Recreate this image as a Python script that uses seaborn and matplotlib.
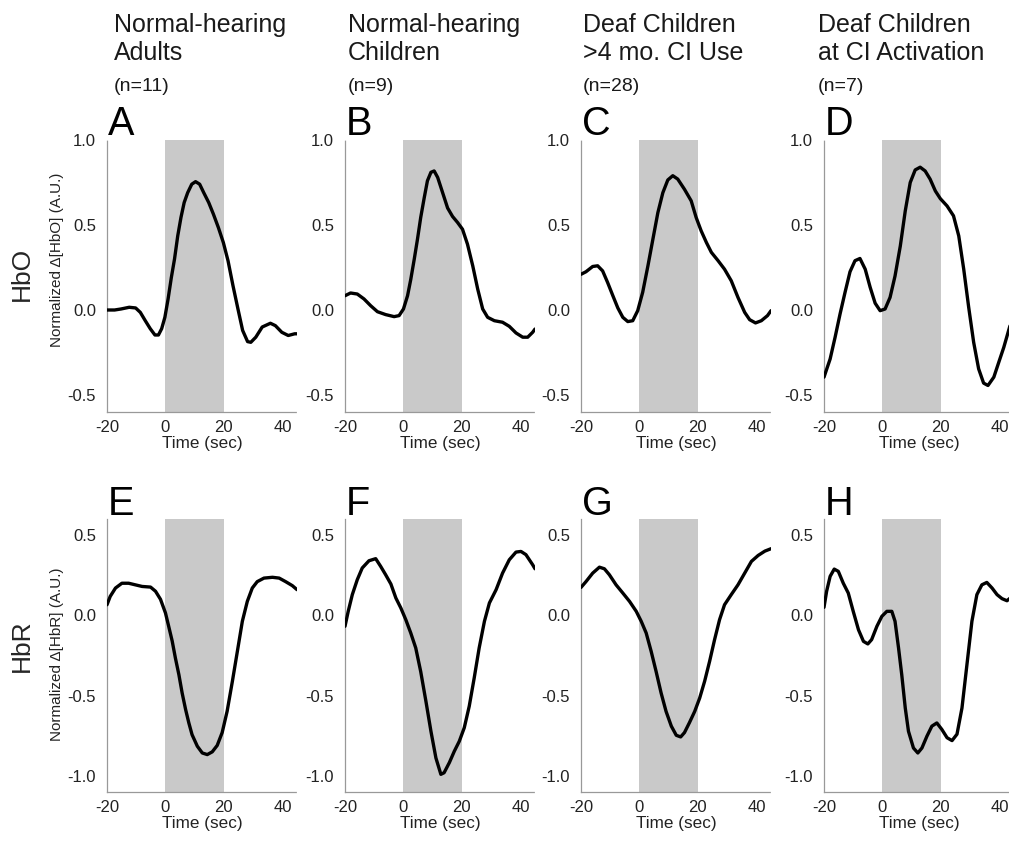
import numpy as np
import pandas as pd
import matplotlib
matplotlib.use("Agg")
import matplotlib.pyplot as plt
import seaborn as sns

# ---------------- data ----------------
A_t = [-20, -17.4, -15.2, -12.4, -10.2, -8.6, -6.9, -5.2, -3.6, -2.4, -1.3, -0.2, 0.9, 2, 3.1, 4.2, 5.3, 6.4, 7.6, 9,
       10.3, 11.7, 13.1, 14.8, 16.4, 18.1, 19.8, 21.4, 23.1, 24.8, 26.4, 28.1, 29.2, 30.9, 33.1, 35.9, 37.6, 39.8, 42, 44.2, 45]
A_v = [0.0, 0.0, 0.006, 0.016, 0.012, -0.014, -0.063, -0.11, -0.147, -0.147, -0.11, -0.043, 0.065, 0.19, 0.30, 0.436, 0.544, 0.632, 0.69, 0.74,
       0.755, 0.74, 0.69, 0.632, 0.564, 0.485, 0.397, 0.29, 0.143, 0.006, -0.12, -0.186, -0.19, -0.16, -0.10, -0.078, -0.092, -0.131, -0.15, -0.14, -0.14]

B_t = [-20, -18.1, -15.8, -13.5, -11.2, -8.9, -6.1, -3.2, -1.5, 0, 1.4, 2.5, 3.7, 4.8, 5.9, 7.1, 8.2, 9.4, 10.5, 11.7,
       13.4, 15.1, 16.8, 18.5, 20.2, 21.9, 23.7, 25.4, 27.1, 28.8, 31.1, 33.9, 36.2, 38.5, 40.8, 42.5, 44.2, 45]
B_v = [0.084, 0.10, 0.094, 0.065, 0.025, -0.01, -0.027, -0.039, -0.033, 0.006, 0.084, 0.18, 0.30, 0.417, 0.544, 0.66, 0.76, 0.81, 0.818, 0.78,
       0.69, 0.60, 0.55, 0.515, 0.475, 0.387, 0.26, 0.123, 0.006, -0.043, -0.063, -0.072, -0.096, -0.135, -0.16, -0.16, -0.131, -0.112]

C_t = [-20, -18.3, -16, -14.3, -12.6, -10.9, -9.1, -7.4, -5.7, -4, -2.3, -0.6, 1.1, 2.9, 4.6, 6.3, 8, 9.7, 11.4, 13.1,
       15.4, 17.7, 19.4, 21.1, 22.9, 24.6, 26.9, 29.1, 31.4, 33.7, 36, 37.7, 39.7, 41.7, 43.8, 45]
C_v = [0.21, 0.225, 0.256, 0.26, 0.23, 0.162, 0.084, 0.012, -0.043, -0.068, -0.063, -0.004, 0.104, 0.26, 0.417, 0.573, 0.69, 0.765, 0.79, 0.77,
       0.71, 0.642, 0.544, 0.466, 0.397, 0.339, 0.29, 0.24, 0.172, 0.074, -0.014, -0.057, -0.076, -0.063, -0.033, -0.004]

D_t = [-20, -17.9, -16.2, -14.5, -12.8, -11.1, -9.4, -7.7, -5.9, -4.2, -2.5, -0.8, 0.9, 2.6, 4.3, 6.1, 7.8, 9.5, 11.2, 12.9,
       14.6, 16.3, 18.1, 19.8, 22.1, 24.3, 26.1, 27.8, 29.5, 31.2, 32.9, 34.6, 36.1, 38.1, 39.8, 41.5, 43.5, 45]
D_v = [-0.395, -0.288, -0.16, -0.023, 0.104, 0.225, 0.29, 0.303, 0.24, 0.133, 0.04, -0.004, 0.006, 0.074, 0.20, 0.376, 0.583, 0.75, 0.824, 0.84,
       0.818, 0.77, 0.70, 0.655, 0.612, 0.554, 0.436, 0.24, 0.016, -0.19, -0.346, -0.43, -0.444, -0.395, -0.307, -0.22, -0.10, -0.02]

E_t = [-20, -18.9, -17.1, -14.9, -12.6, -10.3, -8, -5.1, -3.4, -1.7, 0, 1.1, 2.3, 3.4, 4.6, 5.7, 6.9, 8, 9.1, 10.9,
       12.6, 14.3, 16, 17.7, 19.4, 21.1, 22.9, 24.6, 26.3, 28, 29.7, 31.4, 33.7, 36.6, 38.9, 41.1, 43.4, 45]
E_v = [0.066, 0.118, 0.17, 0.20, 0.20, 0.19, 0.18, 0.176, 0.15, 0.10, 0.015, -0.068, -0.16, -0.266, -0.37, -0.483, -0.587, -0.67, -0.743, -0.815,
       -0.857, -0.867, -0.85, -0.81, -0.73, -0.597, -0.41, -0.224, -0.037, 0.087, 0.17, 0.21, 0.232, 0.237, 0.232, 0.21, 0.185, 0.16]

F_t = [-20, -18.9, -17.5, -15.8, -14.1, -11.8, -9.5, -7.8, -6.1, -4.3, -2.6, -0.9, 0.8, 2.5, 4.2, 5.9, 7.7, 9.4, 11.1, 12.8,
       13.9, 15.7, 17.4, 19.1, 20.8, 22.5, 24.2, 25.9, 27.7, 29.4, 31.7, 33.9, 36.2, 38.5, 40.2, 41.9, 44.2, 45]
F_v = [-0.068, 0.025, 0.129, 0.222, 0.295, 0.34, 0.353, 0.305, 0.253, 0.195, 0.108, 0.046, -0.027, -0.11, -0.203, -0.35, -0.537, -0.722, -0.888, -0.99,
       -0.98, -0.917, -0.846, -0.784, -0.70, -0.566, -0.39, -0.203, -0.037, 0.077, 0.16, 0.263, 0.346, 0.394, 0.398, 0.378, 0.315, 0.29]

G_t = [-20, -18.3, -16, -13.7, -12, -10.3, -8, -5.7, -3.4, -1.1, 0.6, 2.3, 4, 5.7, 7.4, 9.1, 10.9, 12.6, 14.1, 15.4,
       17.1, 18.9, 20.6, 22.3, 24, 25.7, 27.4, 29.1, 31.4, 33.7, 36, 38.3, 40.6, 42.9, 45]
G_v = [0.174, 0.21, 0.263, 0.30, 0.29, 0.253, 0.19, 0.139, 0.087, 0.025, -0.037, -0.11, -0.224, -0.35, -0.483, -0.598, -0.69, -0.747, -0.757, -0.73,
       -0.668, -0.598, -0.515, -0.41, -0.286, -0.151, -0.027, 0.066, 0.129, 0.19, 0.263, 0.336, 0.373, 0.40, 0.415]

H_t = [-20, -19.1, -17.9, -16.5, -15.1, -13.4, -11.7, -10, -8.2, -6.5, -5, -3.7, -1.9, -0.2, 1.5, 3.2, 4.3, 5.5, 6.6, 7.8,
       8.9, 10.6, 12.1, 13.5, 15.2, 16.9, 18.6, 20.3, 22.1, 23.8, 25.5, 27.2, 28.9, 30.6, 32.3, 34, 35.7, 37.5, 39.2, 40.9,
       42.6, 43.5, 45]
H_v = [0.05, 0.15, 0.243, 0.288, 0.274, 0.20, 0.139, 0.025, -0.09, -0.162, -0.178, -0.151, -0.068, -0.006, 0.025, 0.025, -0.037, -0.203, -0.37, -0.577,
       -0.722, -0.826, -0.857, -0.826, -0.753, -0.69, -0.67, -0.71, -0.762, -0.78, -0.74, -0.577, -0.307, -0.037, 0.129, 0.19, 0.205, 0.17, 0.129, 0.104,
       0.091, 0.105, 0.11]

col_titles = [["Normal-hearing", "Adults"], ["Normal-hearing", "Children"],
              ["Deaf Children", ">4 mo. CI Use"], ["Deaf Children", "at CI Activation"]]
col_n = ["(n=11)", "(n=9)", "(n=28)", "(n=7)"]
letters_top = ["A", "B", "C", "D"]
letters_bot = ["E", "F", "G", "H"]
row_labels = ["HbO", "HbR"]
ylabels = ["Normalized \u0394[HbO] (A.U.)", "Normalized \u0394[HbR] (A.U.)"]
stim_window = [0, 20]
x_ticks = [-20, 0, 20, 40]
y_ticks_top = [-0.5, 0.0, 0.5, 1.0]
y_ticks_bot = [-1.0, -0.5, 0.0, 0.5]

top_series = [(A_t, A_v), (B_t, B_v), (C_t, C_v), (D_t, D_v)]
bot_series = [(E_t, E_v), (F_t, F_v), (G_t, G_v), (H_t, H_v)]

# ---------------- styling ----------------
sns.set_theme(style="white")
plt.rcParams['font.family'] = ['Liberation Sans', 'DejaVu Sans']
plt.rcParams['axes.unicode_minus'] = False

W, H = 1009, 842
fig = plt.figure(figsize=(W / 100, H / 100), dpi=100)
fig.patch.set_facecolor('white')

col_left = [107, 345, 581, 824]
ax_w = 190
rows = [(140, 412, (-0.6, 1.0), y_ticks_top, top_series, letters_top),
        (519, 792, (-1.1, 0.6), y_ticks_bot, bot_series, letters_bot)]

def px(x, y):
    return x / W, 1 - y / H

for r, (ytop, ybot, ylim, yticks, series, letters) in enumerate(rows):
    for c in range(4):
        ax = fig.add_axes([col_left[c] / W, 1 - ybot / H, ax_w / W, (ybot - ytop) / H])
        ax.axvspan(stim_window[0], stim_window[1], color='#c9c9c9', lw=0, zorder=0)
        t, v = series[c]
        df = pd.DataFrame({'t': t, 'v': v})
        sns.lineplot(data=df, x='t', y='v', ax=ax, color='black', lw=2.4,
                     estimator=None, sort=False, zorder=3)
        for ln in ax.lines:
            ln.set_solid_joinstyle('round')
            ln.set_solid_capstyle('round')
        ax.set_xlim(-20, 45)
        ax.set_ylim(*ylim)
        ax.set_xticks(x_ticks)
        ax.set_xticklabels([str(x) for x in x_ticks])
        ax.set_yticks(yticks)
        ax.set_yticklabels([f"{y:.1f}" for y in yticks])
        for s in ['top', 'right']:
            ax.spines[s].set_visible(False)
        for s in ['left', 'bottom']:
            ax.spines[s].set_color('#999999')
            ax.spines[s].set_linewidth(0.9)
            ax.spines[s].set_linestyle((0, (1, 1)))
        ax.tick_params(axis='both', which='major', length=3, width=0.8, color='#999999',
                       direction='out', labelsize=12, labelcolor='#222222')
        ax.tick_params(axis='x', pad=2.5)
        ax.tick_params(axis='y', pad=5)
        ax.set_xlabel("Time (sec)", fontsize=12.3, color='#222222', labelpad=1)
        ax.set_ylabel("")
        ax.set_facecolor('none')
        ax.grid(False)
        # panel letter
        base = 135 if r == 0 else 515
        fig.text(*px(col_left[c] + 1, base), letters[c], fontsize=28.5, color='black',
                 ha='left', va='baseline')

# column titles
title_x = [114, 348, 583, 818]
for c in range(4):
    fig.text(*px(title_x[c], 32), col_titles[c][0], fontsize=18, color='#1a1a1a',
             ha='left', va='baseline')
    fig.text(*px(title_x[c], 60), col_titles[c][1], fontsize=18, color='#1a1a1a',
             ha='left', va='baseline')
    fig.text(*px(title_x[c], 91), col_n[c], fontsize=14, color='#1a1a1a',
             ha='left', va='baseline')

# row labels and y labels
fig.text(*px(22, 274), row_labels[0], fontsize=19, rotation=90, ha='center', va='center')
fig.text(*px(22, 646), row_labels[1], fontsize=19, rotation=90, ha='center', va='center')
fig.text(*px(57, 260), ylabels[0], fontsize=11, rotation=90, ha='center', va='center', color='#222222')
fig.text(*px(57, 654), ylabels[1], fontsize=11, rotation=90, ha='center', va='center', color='#222222')

fig.savefig("out.png", dpi=100, facecolor='white')
